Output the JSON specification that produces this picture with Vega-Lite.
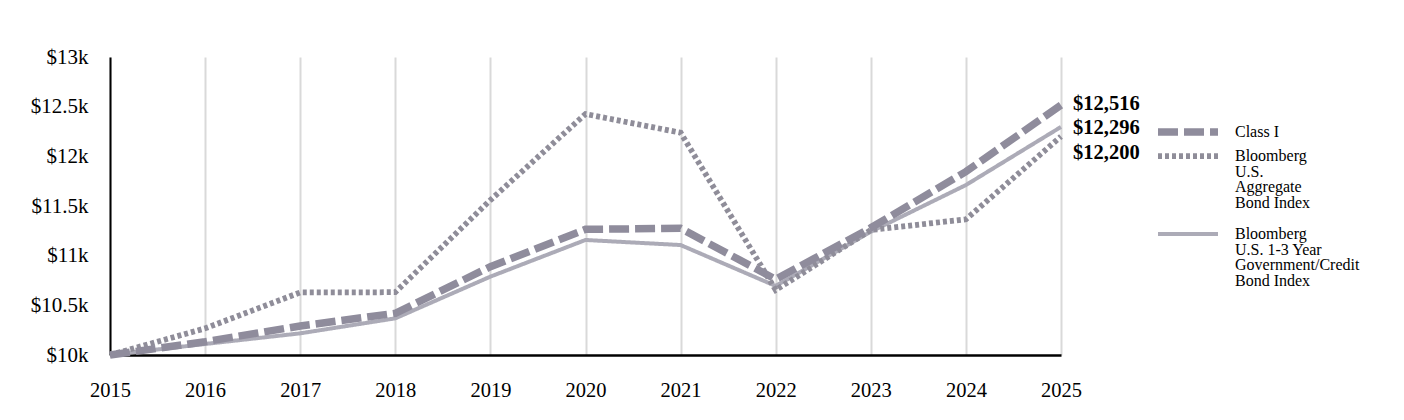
{
  "$schema": "https://vega.github.io/schema/vega-lite/v6.json",
  "autosize": {"type": "none"},
  "width": 951,
  "height": 298,
  "padding": {"left": 110, "top": 57, "right": 343, "bottom": 65},
  "background": "white",
  "data": {
    "values": [
      {"year": 2015, "series": "Bloomberg U.S. 1-3 Year Government/Credit Bond Index", "value": 10000},
      {"year": 2016, "series": "Bloomberg U.S. 1-3 Year Government/Credit Bond Index", "value": 10111},
      {"year": 2017, "series": "Bloomberg U.S. 1-3 Year Government/Credit Bond Index", "value": 10218},
      {"year": 2018, "series": "Bloomberg U.S. 1-3 Year Government/Credit Bond Index", "value": 10369},
      {"year": 2019, "series": "Bloomberg U.S. 1-3 Year Government/Credit Bond Index", "value": 10789},
      {"year": 2020, "series": "Bloomberg U.S. 1-3 Year Government/Credit Bond Index", "value": 11158},
      {"year": 2021, "series": "Bloomberg U.S. 1-3 Year Government/Credit Bond Index", "value": 11107},
      {"year": 2022, "series": "Bloomberg U.S. 1-3 Year Government/Credit Bond Index", "value": 10695},
      {"year": 2023, "series": "Bloomberg U.S. 1-3 Year Government/Credit Bond Index", "value": 11241},
      {"year": 2024, "series": "Bloomberg U.S. 1-3 Year Government/Credit Bond Index", "value": 11711},
      {"year": 2025, "series": "Bloomberg U.S. 1-3 Year Government/Credit Bond Index", "value": 12296},
      {"year": 2015, "series": "Bloomberg U.S. Aggregate Bond Index", "value": 10000},
      {"year": 2016, "series": "Bloomberg U.S. Aggregate Bond Index", "value": 10268},
      {"year": 2017, "series": "Bloomberg U.S. Aggregate Bond Index", "value": 10630},
      {"year": 2018, "series": "Bloomberg U.S. Aggregate Bond Index", "value": 10632},
      {"year": 2019, "series": "Bloomberg U.S. Aggregate Bond Index", "value": 11560},
      {"year": 2020, "series": "Bloomberg U.S. Aggregate Bond Index", "value": 12426},
      {"year": 2021, "series": "Bloomberg U.S. Aggregate Bond Index", "value": 12238},
      {"year": 2022, "series": "Bloomberg U.S. Aggregate Bond Index", "value": 10654},
      {"year": 2023, "series": "Bloomberg U.S. Aggregate Bond Index", "value": 11258},
      {"year": 2024, "series": "Bloomberg U.S. Aggregate Bond Index", "value": 11366},
      {"year": 2025, "series": "Bloomberg U.S. Aggregate Bond Index", "value": 12200},
      {"year": 2015, "series": "Class I", "value": 10000},
      {"year": 2016, "series": "Class I", "value": 10134},
      {"year": 2017, "series": "Class I", "value": 10292},
      {"year": 2018, "series": "Class I", "value": 10420},
      {"year": 2019, "series": "Class I", "value": 10889},
      {"year": 2020, "series": "Class I", "value": 11265},
      {"year": 2021, "series": "Class I", "value": 11275},
      {"year": 2022, "series": "Class I", "value": 10762},
      {"year": 2023, "series": "Class I", "value": 11280},
      {"year": 2024, "series": "Class I", "value": 11846},
      {"year": 2025, "series": "Class I", "value": 12516}
    ]
  },
  "encoding": {
    "x": {
      "field": "year",
      "type": "quantitative",
      "scale": {"domain": [2015, 2025], "nice": false, "zero": false},
      "axis": {
        "title": null,
        "values": [2015, 2016, 2017, 2018, 2019, 2020, 2021, 2022, 2023, 2024, 2025],
        "format": "d",
        "grid": true,
        "gridColor": "#d9d9d9",
        "gridWidth": 2,
        "ticks": false,
        "domainColor": "black",
        "domainWidth": 2.5,
        "labelFont": "Liberation Serif",
        "labelFontSize": 20.5,
        "labelColor": "black",
        "labelPadding": 25,
        "labelFlush": false,
        "labelOverlap": false
      }
    },
    "y": {
      "field": "value",
      "type": "quantitative",
      "scale": {"domain": [10000, 13000], "nice": false, "zero": false},
      "axis": {
        "title": null,
        "values": [10000, 10500, 11000, 11500, 12000, 12500, 13000],
        "labelExpr": "'$' + (datum.value / 1000) + 'k'",
        "grid": false,
        "ticks": false,
        "domainColor": "black",
        "domainWidth": 2,
        "labelFont": "Liberation Serif",
        "labelFontSize": 21,
        "labelColor": "black",
        "labelPadding": 22,
        "labelOverlap": false
      }
    }
  },
  "layer": [
    {
      "mark": {"type": "line", "strokeCap": "butt", "strokeJoin": "miter"},
      "encoding": {
        "color": {
          "field": "series",
          "type": "nominal",
          "scale": {
            "domain": ["Class I", "Bloomberg U.S. Aggregate Bond Index", "Bloomberg U.S. 1-3 Year Government/Credit Bond Index"],
            "range": ["#8f8c9c", "#8f8d99", "#acabb7"]
          },
          "legend": {
            "orient": "none",
            "legendX": 1069,
            "legendY": 66,
            "direction": "vertical",
            "title": null,
            "padding": 0,
            "rowPadding": -3,
            "symbolType": "M-6,0H6",
            "symbolSize": 100,
            "labelOffset": 38,
            "labelFont": "Liberation Serif",
            "labelFontSize": 16,
            "labelColor": "black",
            "labelLimit": 300,
            "labelBaseline": "middle",
            "labelExpr": "datum.label == 'Class I' ? 'Class I' : datum.label == 'Bloomberg U.S. Aggregate Bond Index' ? ['Bloomberg', 'U.S.', 'Aggregate', 'Bond Index', ''] : ['Bloomberg', 'U.S. 1-3 Year', 'Government/Credit', 'Bond Index']"
          }
        },
        "strokeDash": {
          "field": "series",
          "type": "nominal",
          "scale": {
            "domain": ["Class I", "Bloomberg U.S. Aggregate Bond Index", "Bloomberg U.S. 1-3 Year Government/Credit Bond Index"],
            "range": [[20, 6], [4, 3], [1, 0]]
          },
          "legend": {
            "orient": "none",
            "legendX": 1069,
            "legendY": 66,
            "direction": "vertical",
            "title": null
          }
        },
        "strokeWidth": {
          "field": "series",
          "type": "nominal",
          "scale": {
            "domain": ["Class I", "Bloomberg U.S. Aggregate Bond Index", "Bloomberg U.S. 1-3 Year Government/Credit Bond Index"],
            "range": [7.5, 4, 6]
          },
          "legend": {
            "orient": "none",
            "legendX": 1069,
            "legendY": 66,
            "direction": "vertical",
            "title": null
          }
        }
      }
    },
    {
      "transform": [{"filter": "datum.year == 2025 && datum.series == 'Class I'"}],
      "mark": {"type": "text", "align": "left", "dx": 12, "dy": -1, "font": "Liberation Serif", "fontSize": 20.5, "fontWeight": "bold", "color": "black"},
      "encoding": {"text": {"field": "value", "type": "quantitative", "format": "$,d"}}
    },
    {
      "transform": [{"filter": "datum.year == 2025 && datum.series == 'Bloomberg U.S. 1-3 Year Government/Credit Bond Index'"}],
      "mark": {"type": "text", "align": "left", "dx": 12, "dy": 1, "font": "Liberation Serif", "fontSize": 20.5, "fontWeight": "bold", "color": "black"},
      "encoding": {"text": {"field": "value", "type": "quantitative", "format": "$,d"}}
    },
    {
      "transform": [{"filter": "datum.year == 2025 && datum.series == 'Bloomberg U.S. Aggregate Bond Index'"}],
      "mark": {"type": "text", "align": "left", "dx": 12, "dy": 17, "font": "Liberation Serif", "fontSize": 20.5, "fontWeight": "bold", "color": "black"},
      "encoding": {"text": {"field": "value", "type": "quantitative", "format": "$,d"}}
    }
  ],
  "config": {
    "view": {"stroke": null},
    "style": {"guide-label": {"lineHeight": 15.5}}
  }
}
